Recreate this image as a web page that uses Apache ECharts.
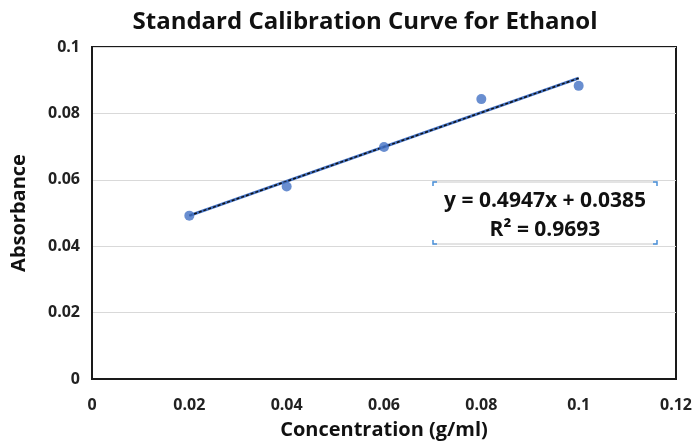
<!DOCTYPE html>
<html>
<head>
<meta charset="utf-8">
<script src="https://cdn.jsdelivr.net/npm/echarts@6/dist/echarts.min.js"></script>
<style>
html,body{margin:0;padding:0;background:#fff;}
#c{width:696px;height:445px;}
</style>
</head>
<body>
<div id="c"></div>
<script>
// Data
const concentration = [0.02, 0.04, 0.06, 0.08, 0.1];
const absorbance = [0.0492, 0.0580, 0.0699, 0.0843, 0.0883];
const trendX = [0.02, 0.1];
const trendY = [0.0492, 0.0906];
const xTicks = [0, 0.02, 0.04, 0.06, 0.08, 0.1, 0.12];
const yTicks = [0, 0.02, 0.04, 0.06, 0.08, 0.1];
const titleText = 'Standard Calibration Curve for Ethanol';
const xName = 'Concentration (g/ml)';
const yName = 'Absorbance';
const eqLine1 = 'y = 0.4947x + 0.0385';
const eqLine2 = 'R² = 0.9693';

const FONT = 'Open Sans';
const chart = echarts.init(document.getElementById('c'));
const pts = concentration.map((x, i) => [x, absorbance[i]]);
const trend = trendX.map((x, i) => [x, trendY[i]]);

chart.setOption({
  animation: false,
  backgroundColor: '#fff',
  title: {
    text: titleText,
    left: 360, top: 5, textAlign: 'center',
    textStyle: {fontFamily: FONT, fontWeight: 'bold', fontSize: 24, color: '#111'}
  },
  grid: {left: 92, right: 20, top: 47, bottom: 65, show: true, borderColor: '#1a1a1a', borderWidth: 2, backgroundColor: 'transparent'},
  xAxis: {
    type: 'value', min: 0, max: 0.12, interval: 0.02,
    axisLine: {show: true, lineStyle: {color: '#1a1a1a', width: 2}},
    axisTick: {show: false},
    splitLine: {show: false},
    axisLabel: {fontFamily: FONT, fontWeight: 'bold', fontSize: 16, color: '#222', margin: 18,
      formatter: v => String(parseFloat(v.toFixed(4)))},
    name: xName, nameLocation: 'middle', nameGap: 41,
    nameTextStyle: {fontFamily: FONT, fontWeight: 'bold', fontSize: 20, color: '#111'}
  },
  yAxis: {
    type: 'value', min: 0, max: 0.1, interval: 0.02,
    axisLine: {show: true, lineStyle: {color: '#1a1a1a', width: 2}},
    axisTick: {show: false},
    splitLine: {show: true, lineStyle: {color: '#d9d9d9', width: 1}},
    axisLabel: {fontFamily: FONT, fontWeight: 'bold', fontSize: 16, color: '#222', margin: 12,
      formatter: v => String(parseFloat(v.toFixed(4)))},
    name: yName, nameLocation: 'middle', nameGap: 63,
    nameTextStyle: {fontFamily: FONT, fontWeight: 'bold', fontSize: 20, color: '#111'}
  },
  series: [
    {type: 'line', data: trend, symbol: 'none', lineStyle: {color: '#4472C4', width: 3}, z: 2},
    {type: 'line', data: trend, symbol: 'none', lineStyle: {color: '#111', width: 1.5, type: [3, 2]}, z: 3},
    {type: 'scatter', data: pts, symbol: 'circle', symbolSize: 10, itemStyle: {color: '#4472C4'}, z: 4}
  ],
  graphic: [
    {type: 'line', shape: {x1: 433, y1: 182, x2: 657, y2: 182}, style: {stroke: '#c8c8c8', lineWidth: 1}},
    {type: 'line', shape: {x1: 433, y1: 244, x2: 657, y2: 244}, style: {stroke: '#c8c8c8', lineWidth: 1}},
    {type: 'polyline', shape: {points: [[433, 186], [433, 182], [437, 182]]}, style: {stroke: '#4a90d9', lineWidth: 1.5, fill: null}},
    {type: 'polyline', shape: {points: [[653, 182], [657, 182], [657, 186]]}, style: {stroke: '#4a90d9', lineWidth: 1.5, fill: null}},
    {type: 'polyline', shape: {points: [[433, 240], [433, 244], [437, 244]]}, style: {stroke: '#4a90d9', lineWidth: 1.5, fill: null}},
    {type: 'polyline', shape: {points: [[653, 244], [657, 244], [657, 240]]}, style: {stroke: '#4a90d9', lineWidth: 1.5, fill: null}},
    {type: 'text', x: 545, y: 201, style: {text: eqLine1, font: 'bold 21px "Open Sans"', fill: '#111', align: 'center', verticalAlign: 'middle'}},
    {type: 'text', x: 545, y: 230, style: {text: eqLine2, font: 'bold 21px "Open Sans"', fill: '#111', align: 'center', verticalAlign: 'middle'}}
  ]
});
</script>
</body>
</html>
